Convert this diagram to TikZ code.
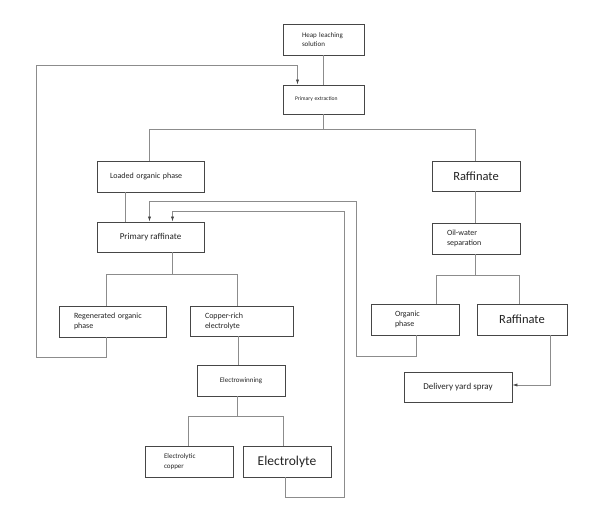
\documentclass[tikz,border=0pt]{standalone}
\usepackage{fontspec}
\setmainfont{Carlito}
\usetikzlibrary{arrows.meta}
\definecolor{boxgray}{RGB}{70,70,70}
\definecolor{linegray}{RGB}{140,140,140}
\definecolor{textgray}{RGB}{35,35,35}
\newcommand{\fsz}[2]{\fontsize{#1}{#2}\selectfont}

\begin{document}
\begin{tikzpicture}[x=1pt, y=-1pt,
		pbox/.style={draw=boxgray, line width=0.9pt, inner ysep=0pt,
			minimum height=31pt, align=center, text=textgray},
		conn/.style={draw=linegray, line width=0.7pt},
		carr/.style={conn, -{Latex[length=5pt,width=3.2pt,color=boxgray]}}
	]
	\useasboundingbox (0,0) rectangle (603,508);
	% boxes
	\node[pbox, inner xsep=19pt, text width=43pt, align=left, font=\fsz{7}{8.5}] (heap) at (323.5,39.5) {Heap leaching\\solution};
	\node[pbox, inner xsep=12pt, text width=57pt, align=left, minimum height=29pt, font=\fsz{5.6}{7}] (pe) at (323.5,99.5) {Primary extraction};
	\node[pbox, inner xsep=13pt, text width=81pt, align=left, font=\fsz{8}{10}] (loaded) at (150.5,176.5) {Loaded organic phase};
	\node[pbox, minimum width=88pt, minimum height=30pt, font=\fsz{12.5}{14}] (raff) at (476,176) {Raffinate};
	\node[pbox, minimum width=107pt, minimum height=30pt, font=\fsz{9}{11}] (prim) at (150.5,237) {Primary raffinate};
	\node[pbox, inner xsep=15pt, text width=58pt, align=left, font=\fsz{8}{10}] (oilw) at (476,238.5) {Oil-water\\separation};
	\node[pbox, inner xsep=15pt, text width=77pt, align=left, font=\fsz{8}{10}] (regen) at (112.5,321.5) {Regenerated organic\\phase};
	\node[pbox, inner xsep=15pt, text width=73pt, align=left, minimum height=30pt, font=\fsz{8}{10}] (cu) at (241.5,321) {Copper-rich\\electrolyte};
	\node[pbox, inner xsep=24pt, text width=40pt, align=left, font=\fsz{8}{10}] (orgph) at (415,319.5) {Organic\\phase};
	\node[pbox, minimum width=90pt, font=\fsz{12.5}{14}] (raff2) at (522,319.5) {Raffinate};
	\node[pbox, minimum width=88pt, font=\fsz{7}{9}] (ew) at (241,380.5) {Electrowinning};
	\node[pbox, minimum width=108pt, minimum height=30pt, font=\fsz{9}{11}] (spray) at (458,387) {Delivery yard spray};
	\node[pbox, inner xsep=19pt, text width=50pt, align=left, font=\fsz{7}{10}] (ecu) at (189,461.5) {Electrolytic\\copper};
	\node[pbox, minimum width=88pt, font=\fsz{13.5}{15}] (elyte) at (287,461.5) {Electrolyte};
	% loop corners
	\coordinate (regcorner) at (36.7,65);
	\coordinate (orgcorner) at (356.7,201.7);
	\coordinate (elycorner) at (344.3,211.7);
	% main flow
	\draw[conn] (heap) -- (pe);
	\draw[conn] (pe.south) -- ++(0,15) coordinate (pesplit);
	\draw[conn] ([xshift=-1.5pt]loaded.north) |- (pesplit) -| ([xshift=-1pt]raff.north);
	\draw[conn] ([xshift=-25pt]loaded.south) -- ([xshift=-25pt]prim.north);
	\draw[conn] ([xshift=-1pt]raff.south) -- ([xshift=-1pt]oilw.north);
	\draw[conn] ([xshift=22pt]prim.south) -- ++(0,22) coordinate (primsplit);
	\draw[conn] ([xshift=-6.5pt]regen.north) |- (primsplit) -| ([xshift=-4pt]cu.north);
	\draw[conn] ([xshift=-1pt]oilw.south) -- ++(0,21) coordinate (oilsplit);
	\draw[conn] ([xshift=21pt]orgph.north) |- (oilsplit) -| ([xshift=-3pt]raff2.north);
	\draw[conn] ([xshift=-3.5pt]cu.south) -- ([xshift=-3.5pt]cu.south |- ew.north);
	\draw[conn] ([xshift=-3.5pt]ew.south) -- ++(0,20) coordinate (ewsplit);
	\draw[conn] ([xshift=-1pt]ecu.north) |- (ewsplit) -| ([xshift=-3.5pt]elyte.north);
	% recycle loops
	\draw[carr] ([xshift=-6pt]regen.south) -- ++(0,20) -| (regcorner) -| ([xshift=-26pt]pe.north);
	\draw[carr] ([xshift=1pt]orgph.south) -- ++(0,21) -| (orgcorner) -| ([xshift=-1pt]prim.north);
	\draw[carr] ([xshift=-2pt]elyte.south) -- ++(0,20) -| (elycorner) -| ([xshift=22pt]prim.north);
	\draw[carr] ([xshift=28pt]raff2.south) |- ([yshift=2pt]spray.east);
\end{tikzpicture}
\end{document}
